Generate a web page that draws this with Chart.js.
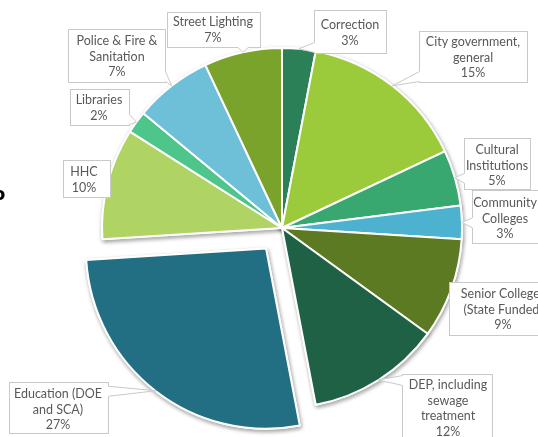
<!DOCTYPE html>
<html>
<head>
<meta charset="utf-8">
<script src="https://cdn.jsdelivr.net/npm/chart.js@4/dist/chart.umd.min.js"></script>
<style>
html,body{margin:0;padding:0;background:#fff;}
#wrap{width:538px;height:437px;position:relative;overflow:hidden;}
</style>
</head>
<body>
<div id="wrap"><canvas id="c" width="538" height="437"></canvas></div>
<script>
// ---- data ----
const categories = [
  'Correction',
  'City government,\ngeneral',
  'Cultural\nInstitutions',
  'Community\nColleges',
  'Senior Colleges\n(State Funded)',
  'DEP, including\nsewage\ntreatment',
  'Education (DOE\nand SCA)',
  'HHC',
  'Libraries',
  'Police & Fire &\nSanitation',
  'Street Lighting'
];
const values = [3, 15, 5, 3, 9, 12, 27, 10, 2, 7, 7];
const explodedCategory = 'Education (DOE\nand SCA)';

// ---- styles / layout ----
const colors = ['#2B8058','#9BCB3B','#38A870','#4CB2D0','#5C7A21','#1E6144',
                '#226E83','#AFD463','#4DC58B','#6EC0D9','#7AA32B'];
// label boxes: [x, y, w, h, textCenterX, firstLineY]
const boxes = [
  [314, 10, 72, 43, 350, 25],
  [419, 31, 108, 51, 473, 42],
  [464, 138, 66, 51, 497, 150],
  [472, 190, 72, 53, 505, 203],
  [449, 282, 110, 53, 503, 294],
  [402, 374, 90, 70, 448, 385],
  [9, 382, 99, 51, 58, 394],
  [63, 160, 47, 37, 84, 172],
  [70, 89, 59, 36, 99, 100],
  [68, 29, 97, 53, 117, 41],
  [167, 12, 93, 35, 213, 22]
];
const lineH = 15.6;

const shadowPlugin = {
  id: 'shadow',
  beforeDatasetsDraw(chart) {
    const ctx = chart.ctx;
    const meta = chart.getDatasetMeta(0);
    ctx.save();
    ctx.shadowColor = 'rgba(0,0,0,0.35)';
    ctx.shadowBlur = 4;
    ctx.shadowOffsetX = 1;
    ctx.shadowOffsetY = 2;
    meta.data.forEach(a => a.draw(ctx));
    ctx.restore();
  }
};

const calloutPlugin = {
  id: 'callouts',
  afterDatasetsDraw(chart) {
    const ctx = chart.ctx;
    const meta = chart.getDatasetMeta(0);
    ctx.save();
    ctx.font = '12.5px Lato, "Open Sans", sans-serif';
    ctx.textAlign = 'center';
    ctx.textBaseline = 'middle';
    meta.data.forEach((arc, i) => {
      const p = arc.getProps(['x','y','startAngle','endAngle','outerRadius']);
      const mid = (p.startAngle + p.endAngle) / 2;
      const off = (arc.options.offset || 0) / 4;
      const tx = p.x + Math.cos(mid) * (p.outerRadius + off);
      const ty = p.y + Math.sin(mid) * (p.outerRadius + off);
      const [bx, by, bw, bh, cx, ly] = boxes[i];
      // box
      ctx.fillStyle = '#fff';
      ctx.strokeStyle = '#c9c9c9';
      ctx.lineWidth = 1;
      ctx.fillRect(bx + 0.5, by + 0.5, bw, bh);
      ctx.strokeRect(bx + 0.5, by + 0.5, bw, bh);
      // leader wedge
      const nx = Math.min(Math.max(tx, bx), bx + bw);
      const ny = Math.min(Math.max(ty, by), by + bh);
      const d = Math.hypot(tx - nx, ty - ny);
      if (d > 3) {
        let a1, a2;
        if (nx === bx || nx === bx + bw) {
          const yy = Math.min(Math.max(ny, by + 6), by + bh - 6);
          a1 = [nx, yy - 5]; a2 = [nx, yy + 5];
        } else {
          const xx = Math.min(Math.max(nx, bx + 6), bx + bw - 6);
          a1 = [xx - 5, ny]; a2 = [xx + 5, ny];
        }
        ctx.beginPath();
        ctx.moveTo(a1[0] + 0.5, a1[1] + 0.5);
        ctx.lineTo(tx, ty);
        ctx.lineTo(a2[0] + 0.5, a2[1] + 0.5);
        ctx.closePath();
        ctx.fillStyle = '#fff';
        ctx.fill();
        ctx.strokeStyle = '#fff';
        ctx.lineWidth = 2;
        ctx.beginPath();
        ctx.moveTo(a1[0] + 0.5, a1[1] + 0.5);
        ctx.lineTo(a2[0] + 0.5, a2[1] + 0.5);
        ctx.stroke();
        ctx.strokeStyle = '#c9c9c9';
        ctx.lineWidth = 1;
        ctx.beginPath();
        ctx.moveTo(a1[0] + 0.5, a1[1] + 0.5);
        ctx.lineTo(tx, ty);
        ctx.lineTo(a2[0] + 0.5, a2[1] + 0.5);
        ctx.stroke();
      }
      // text
      ctx.fillStyle = '#595959';
      const lines = chart.data.labels[i].split('\n');
      lines.push(chart.data.datasets[0].data[i] + '%');
      lines.forEach((t, k) => ctx.fillText(t, cx, ly + k * lineH));
    });
    // clipped fragment at left edge
    ctx.fillStyle = '#000';
    ctx.font = 'bold 18px "DejaVu Sans", sans-serif';
    ctx.textAlign = 'left';
    ctx.fillText('o', -7, 195);
    ctx.restore();
  }
};

new Chart(document.getElementById('c'), {
  type: 'pie',
  data: {
    labels: categories,
    datasets: [{
      data: values,
      backgroundColor: colors,
      borderColor: '#ffffff',
      borderWidth: 2,
      offset: categories.map(c => c === explodedCategory ? 104 : 0)
    }]
  },
  options: {
    responsive: false,
    animation: false,
    events: [],
    radius: 180,
    layout: { padding: { left: 26, top: 19, right: 0, bottom: 0 } },
    plugins: { legend: { display: false }, tooltip: { enabled: false } }
  },
  plugins: [shadowPlugin, calloutPlugin]
});
</script>
</body>
</html>
